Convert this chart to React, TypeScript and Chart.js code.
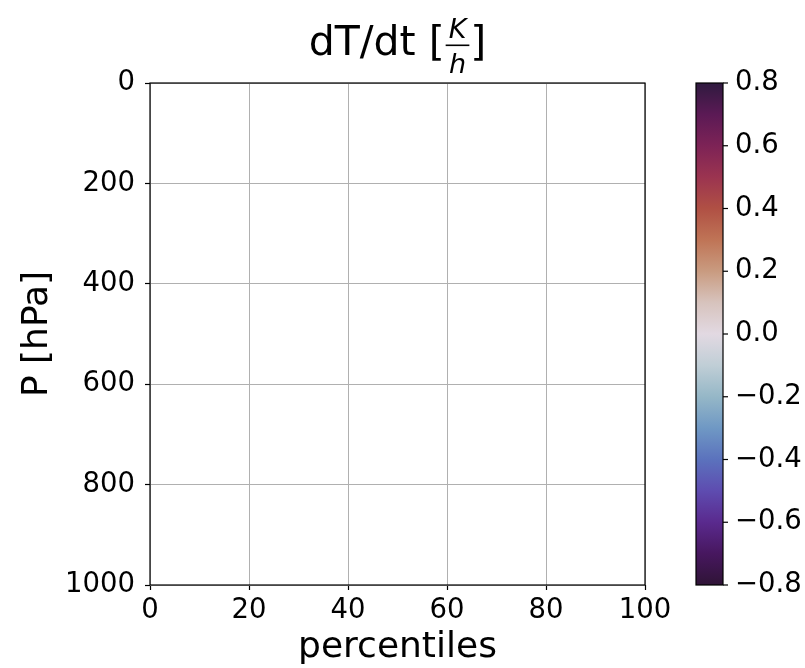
import React, { useEffect, useRef } from "react";
import { Chart, registerables } from "chart.js";

Chart.register(...registerables);

const FONT = '"DejaVu Sans", "Noto Sans", sans-serif';

const X_TICKS = [0, 20, 40, 60, 80, 100];
const P_TICKS = [0, 200, 400, 600, 800, 1000];
const CB_TICKS = [0.8, 0.6, 0.4, 0.2, 0.0, -0.2, -0.4, -0.6, -0.8];
const CB_MIN = -0.8;
const CB_MAX = 0.8;
// colour stops of the colour bar from CB_MIN (first) to CB_MAX (last)
const CB_COLORS = [
  "#2f1436",
  "#47175f",
  "#5a2a8e",
  "#5e4cb0",
  "#5b72bd",
  "#6f98c4",
  "#95b7c7",
  "#c0ced6",
  "#e2d9e2",
  "#d7c3bd",
  "#c99b80",
  "#bf7456",
  "#b05044",
  "#9b3450",
  "#7d2356",
  "#5b1a55",
  "#2f1a3f",
];
// empty data: the reference plot holds no marks
const SERIES: { x: number; y: number }[] = [];

const TITLE_MAIN = "dT/dt [";
const TITLE_NUM = "K";
const TITLE_DEN = "h";
const TITLE_END = "]";

const titlePlugin = {
  id: "mathTitle",
  afterDraw(chart: any) {
    const { ctx, chartArea } = chart;
    const cx = (chartArea.left + chartArea.right) / 2;
    const baseY = 55;
    ctx.save();
    ctx.fillStyle = "#000";
    ctx.textBaseline = "alphabetic";
    ctx.textAlign = "left";
    ctx.font = `41px ${FONT}`;
    const w1 = ctx.measureText(TITLE_MAIN).width;
    const w3 = ctx.measureText(TITLE_END).width;
    ctx.font = `italic 27px ${FONT}`;
    const wk = ctx.measureText(TITLE_NUM).width;
    const wh = ctx.measureText(TITLE_DEN).width;
    const fracW = Math.max(wk, wh) + 8;
    const total = w1 + fracW + w3;
    let x = cx - total / 2;
    ctx.font = `41px ${FONT}`;
    ctx.fillText(TITLE_MAIN, x, baseY);
    x += w1;
    ctx.font = `italic 27px ${FONT}`;
    ctx.fillText(TITLE_NUM, x + (fracW - wk) / 2, 38);
    ctx.fillText(TITLE_DEN, x + (fracW - wh) / 2, 73);
    ctx.fillRect(x + 1, 44.5, fracW - 2, 1.6);
    x += fracW;
    ctx.font = `41px ${FONT}`;
    ctx.fillText(TITLE_END, x, baseY);
    ctx.restore();
  },
};

const framePlugin = {
  id: "frame",
  afterDraw(chart: any) {
    const { ctx, chartArea } = chart;
    ctx.save();
    ctx.strokeStyle = "#000";
    ctx.lineWidth = 1.2;
    ctx.strokeRect(
      chartArea.left,
      chartArea.top,
      chartArea.right - chartArea.left,
      chartArea.bottom - chartArea.top
    );
    ctx.restore();
  },
};

const colorbarPlugin = {
  id: "colorbar",
  afterDraw(chart: any) {
    const { ctx, chartArea } = chart;
    const left = 696;
    const right = 723;
    const top = chartArea.top;
    const bottom = chartArea.bottom;
    const toPix = (v: number) =>
      bottom - ((v - CB_MIN) / (CB_MAX - CB_MIN)) * (bottom - top);
    ctx.save();
    const g = ctx.createLinearGradient(0, bottom, 0, top);
    CB_COLORS.forEach((c, i) => g.addColorStop(i / (CB_COLORS.length - 1), c));
    ctx.fillStyle = g;
    ctx.fillRect(left, top, right - left, bottom - top);
    ctx.strokeStyle = "#000";
    ctx.lineWidth = 1.2;
    ctx.strokeRect(left, top, right - left, bottom - top);
    ctx.font = `27.5px ${FONT}`;
    ctx.fillStyle = "#000";
    ctx.textAlign = "left";
    ctx.textBaseline = "middle";
    CB_TICKS.forEach((v) => {
      const y = toPix(v);
      ctx.beginPath();
      ctx.moveTo(right, y);
      ctx.lineTo(right + 5, y);
      ctx.stroke();
      const label = (v < 0 ? "\u2212" : "") + Math.abs(v).toFixed(1);
      ctx.fillText(label, right + 12, y);
    });
    ctx.restore();
  },
};

export default function App() {
  const ref = useRef<HTMLCanvasElement | null>(null);
  useEffect(() => {
    if (!ref.current) return;
    const tickFont = { family: FONT, size: 27.5 };
    const chart = new Chart(ref.current, {
      type: "scatter",
      data: {
        datasets: [
          {
            label: "dT/dt",
            data: SERIES,
            pointRadius: 0,
          },
        ],
      },
      options: {
        animation: false,
        responsive: false,
        devicePixelRatio: 1,
        layout: { padding: { top: 83, right: 160, left: 0, bottom: 0 } },
        plugins: {
          legend: { display: false },
          title: { display: false },
          tooltip: { enabled: false },
        },
        scales: {
          x: {
            type: "linear",
            min: X_TICKS[0],
            max: X_TICKS[X_TICKS.length - 1],
            afterBuildTicks: (s: any) => {
              s.ticks = X_TICKS.map((v) => ({ value: v }));
            },
            afterFit: (s: any) => {
              s.height = 83;
            },
            ticks: {
              font: tickFont,
              color: "#000",
              padding: 4,
              maxRotation: 0,
              autoSkip: false,
              callback: (v: any) => String(v),
            },
            grid: {
              color: "#b0b0b0",
              lineWidth: 1,
              tickColor: "#000",
              tickLength: 5,
              tickWidth: 1.2,
            },
            border: { display: false },
            title: {
              display: true,
              text: "percentiles",
              color: "#000",
              font: { family: FONT, size: 36, lineHeight: 1.14 },
              padding: { top: 0, bottom: 0 },
            },
          },
          y: {
            type: "linear",
            reverse: true,
            min: P_TICKS[0],
            max: P_TICKS[P_TICKS.length - 1],
            afterBuildTicks: (s: any) => {
              s.ticks = P_TICKS.map((v) => ({ value: v }));
            },
            afterFit: (s: any) => {
              s.width = 150;
            },
            ticks: {
              font: tickFont,
              color: "#000",
              padding: 10,
              autoSkip: false,
              callback: (v: any) => String(v),
            },
            grid: {
              color: "#b0b0b0",
              lineWidth: 1,
              tickColor: "#000",
              tickLength: 5,
              tickWidth: 1.2,
            },
            border: { display: false },
            title: {
              display: true,
              text: "P [hPa]",
              color: "#000",
              font: { family: FONT, size: 36, lineHeight: 1.2 },
              padding: { top: 16, bottom: 0 },
            },
          },
        },
      },
      plugins: [framePlugin, colorbarPlugin, titlePlugin],
    } as any);
    return () => chart.destroy();
  }, []);
  return (
    <div
      style={{
        position: "absolute",
        left: 0,
        top: 0,
        width: 805,
        height: 668,
        background: "#fff",
      }}
    >
      <canvas ref={ref} width={805} height={668} style={{ width: 805, height: 668, display: "block" }} />
    </div>
  );
}
